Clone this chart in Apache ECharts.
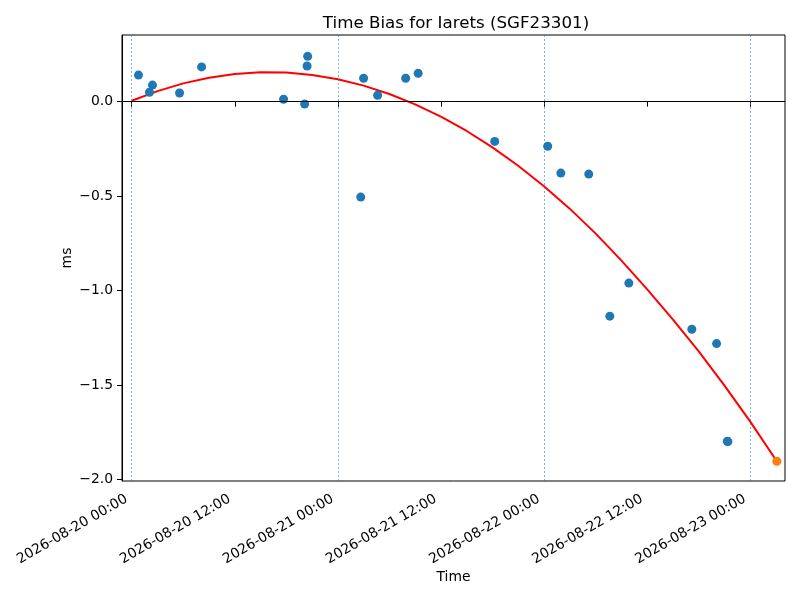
<!DOCTYPE html>
<html>
<head>
<meta charset="utf-8">
<script src="https://cdn.jsdelivr.net/npm/echarts@6/dist/echarts.min.js"></script>
<style>
  html, body { margin: 0; padding: 0; background: #fff; }
  #chart { width: 800px; height: 600px; }
</style>
</head>
<body>
<div id="chart"></div>
<script>
// measured time bias (ms) per pass
var passTimes = [
    '2026-08-20 00:47', '2026-08-20 02:04', '2026-08-20 02:25', '2026-08-20 05:34',
    '2026-08-20 08:08', '2026-08-20 17:41', '2026-08-20 20:08', '2026-08-20 20:25',
    '2026-08-20 20:29', '2026-08-21 02:40', '2026-08-21 03:00', '2026-08-21 04:38',
    '2026-08-21 07:54', '2026-08-21 09:21', '2026-08-21 18:16', '2026-08-22 00:26',
    '2026-08-22 01:58', '2026-08-22 05:13', '2026-08-22 07:40', '2026-08-22 09:53',
    '2026-08-22 17:13', '2026-08-22 20:06', '2026-08-22 21:21', '2026-08-22 21:25'
]
var passBias = [
    0.141, 0.050, 0.088, 0.046,
    0.184, 0.013, -0.012, 0.189,
    0.240, -0.505, 0.124, 0.034,
    0.124, 0.150, -0.210, -0.236,
    -0.378, -0.383, -1.135, -0.960,
    -1.204, -1.280, -1.797, -1.799
]

// predicted point (orange)
var predTime = '2026-08-23 03:07'
var predBias = -1.903

// fitted trend, every 3 hours
var fitTimes = [
    '2026-08-20 00:00', '2026-08-20 03:00', '2026-08-20 06:00', '2026-08-20 09:00',
    '2026-08-20 12:00', '2026-08-20 15:00', '2026-08-20 18:00', '2026-08-20 21:00',
    '2026-08-21 00:00', '2026-08-21 03:00', '2026-08-21 06:00', '2026-08-21 09:00',
    '2026-08-21 12:00', '2026-08-21 15:00', '2026-08-21 18:00', '2026-08-21 21:00',
    '2026-08-22 00:00', '2026-08-22 03:00', '2026-08-22 06:00', '2026-08-22 09:00',
    '2026-08-22 12:00', '2026-08-22 15:00', '2026-08-22 18:00', '2026-08-22 21:00',
    '2026-08-23 00:00', '2026-08-23 03:07'
]
var fitBias = [
    0.005, 0.056, 0.097, 0.127,
    0.147, 0.156, 0.154, 0.141,
    0.119, 0.085, 0.041, -0.014,
    -0.079, -0.155, -0.242, -0.339,
    -0.447, -0.566, -0.697, -0.840,
    -0.992, -1.152, -1.320, -1.501,
    -1.692, -1.903
]

// axis ticks
var xTicks = [
    '2026-08-20 00:00', '2026-08-20 12:00', '2026-08-21 00:00', '2026-08-21 12:00',
    '2026-08-22 00:00', '2026-08-22 12:00', '2026-08-23 00:00'
]
var dayLines = ['2026-08-20 00:00', '2026-08-21 00:00', '2026-08-22 00:00', '2026-08-23 00:00']
var yTicks = [-2.0, -1.5, -1.0, -0.5, 0.0]
var xMin = '2026-08-19 22:52'
var xMax = '2026-08-23 04:04'
var yMin = -2.0074
var yMax = 0.353

function toMs(s) {
    var p = s.split(/[- :]/).map(Number)
    return Date.UTC(p[0], p[1] - 1, p[2], p[3], p[4])
}

function pad(n) {
    return n < 10 ? '0' + n : '' + n
}

function fmtTime(ms) {
    var d = new Date(ms)
    return d.getUTCFullYear() + '-' + pad(d.getUTCMonth() + 1) + '-' + pad(d.getUTCDate()) +
        ' ' + pad(d.getUTCHours()) + ':' + pad(d.getUTCMinutes())
}

function zip(times, vals) {
    return times.map(function (t, i) { return [toMs(t), vals[i]] })
}

var font = 'DejaVu Sans'
var tickMs = xTicks.map(toMs)

var option = {
    animation: false,
    backgroundColor: '#fff',
    title: {
        text: 'Time Bias for Iarets (SGF23301)',
        left: 451,
        top: 10,
        textAlign: 'center',
        textStyle: { fontFamily: font, fontSize: 16.7, fontWeight: 'normal', color: '#000' }
    },
    grid: {
        left: 122, right: 15, top: 35, bottom: 119,
        show: true, borderColor: '#000', borderWidth: 1,
        containLabel: false
    },
    xAxis: {
        type: 'value',
        min: toMs(xMin),
        max: toMs(xMax),
        name: 'Time',
        nameLocation: 'middle',
        nameGap: 89,
        nameMoveOverlap: false,
        nameTextStyle: { fontFamily: font, fontSize: 13.9, color: '#000' },
        axisLine: { show: true, lineStyle: { color: '#000', width: 1 } },
        axisTick: { show: true, length: 5, customValues: tickMs, lineStyle: { color: '#000' } },
        axisLabel: {
            customValues: tickMs,
            rotate: 30,
            margin: 14,
            padding: [0, 6, 0, 0],
            fontFamily: font,
            fontSize: 13.9,
            color: '#000',
            formatter: function (v) { return fmtTime(v) }
        },
        splitLine: { show: false }
    },
    yAxis: {
        type: 'value',
        min: yMin,
        max: yMax,
        name: 'ms',
        nameLocation: 'middle',
        nameGap: 48,
        nameMoveOverlap: false,
        nameTextStyle: { fontFamily: font, fontSize: 13.9, color: '#000' },
        axisLine: { show: true, lineStyle: { color: '#000', width: 1 } },
        axisTick: { show: true, length: 5, customValues: yTicks, lineStyle: { color: '#000' } },
        axisLabel: {
            customValues: yTicks,
            margin: 9,
            fontFamily: font,
            fontSize: 13.9,
            color: '#000',
            formatter: function (v) { return v.toFixed(1).replace('-', '\u2212') }
        },
        splitLine: { show: false }
    },
    series: [
        {
            type: 'line',
            data: zip(fitTimes, fitBias),
            showSymbol: false,
            symbol: 'none',
            lineStyle: { color: '#ff0000', width: 2 },
            z: 2,
            markLine: {
                silent: true,
                symbol: 'none',
                label: { show: false },
                data: dayLines.map(function (t) {
                    return {
                        xAxis: toMs(t),
                        lineStyle: { color: 'rgba(31,119,180,0.7)', type: [2, 2], width: 0.8 }
                    }
                }).concat([{
                    yAxis: 0,
                    lineStyle: { color: '#000', type: 'solid', width: 0.9 }
                }])
            }
        },
        {
            type: 'scatter',
            data: zip(passTimes, passBias),
            symbolSize: 9,
            itemStyle: { color: '#1f77b4', opacity: 1 },
            z: 3
        },
        {
            type: 'scatter',
            data: [[toMs(predTime), predBias]],
            symbolSize: 9,
            itemStyle: { color: '#ff7f0e', opacity: 1 },
            z: 4
        }
    ]
}

var chart = echarts.init(document.getElementById('chart'))
chart.setOption(option)
</script>
</body>
</html>
